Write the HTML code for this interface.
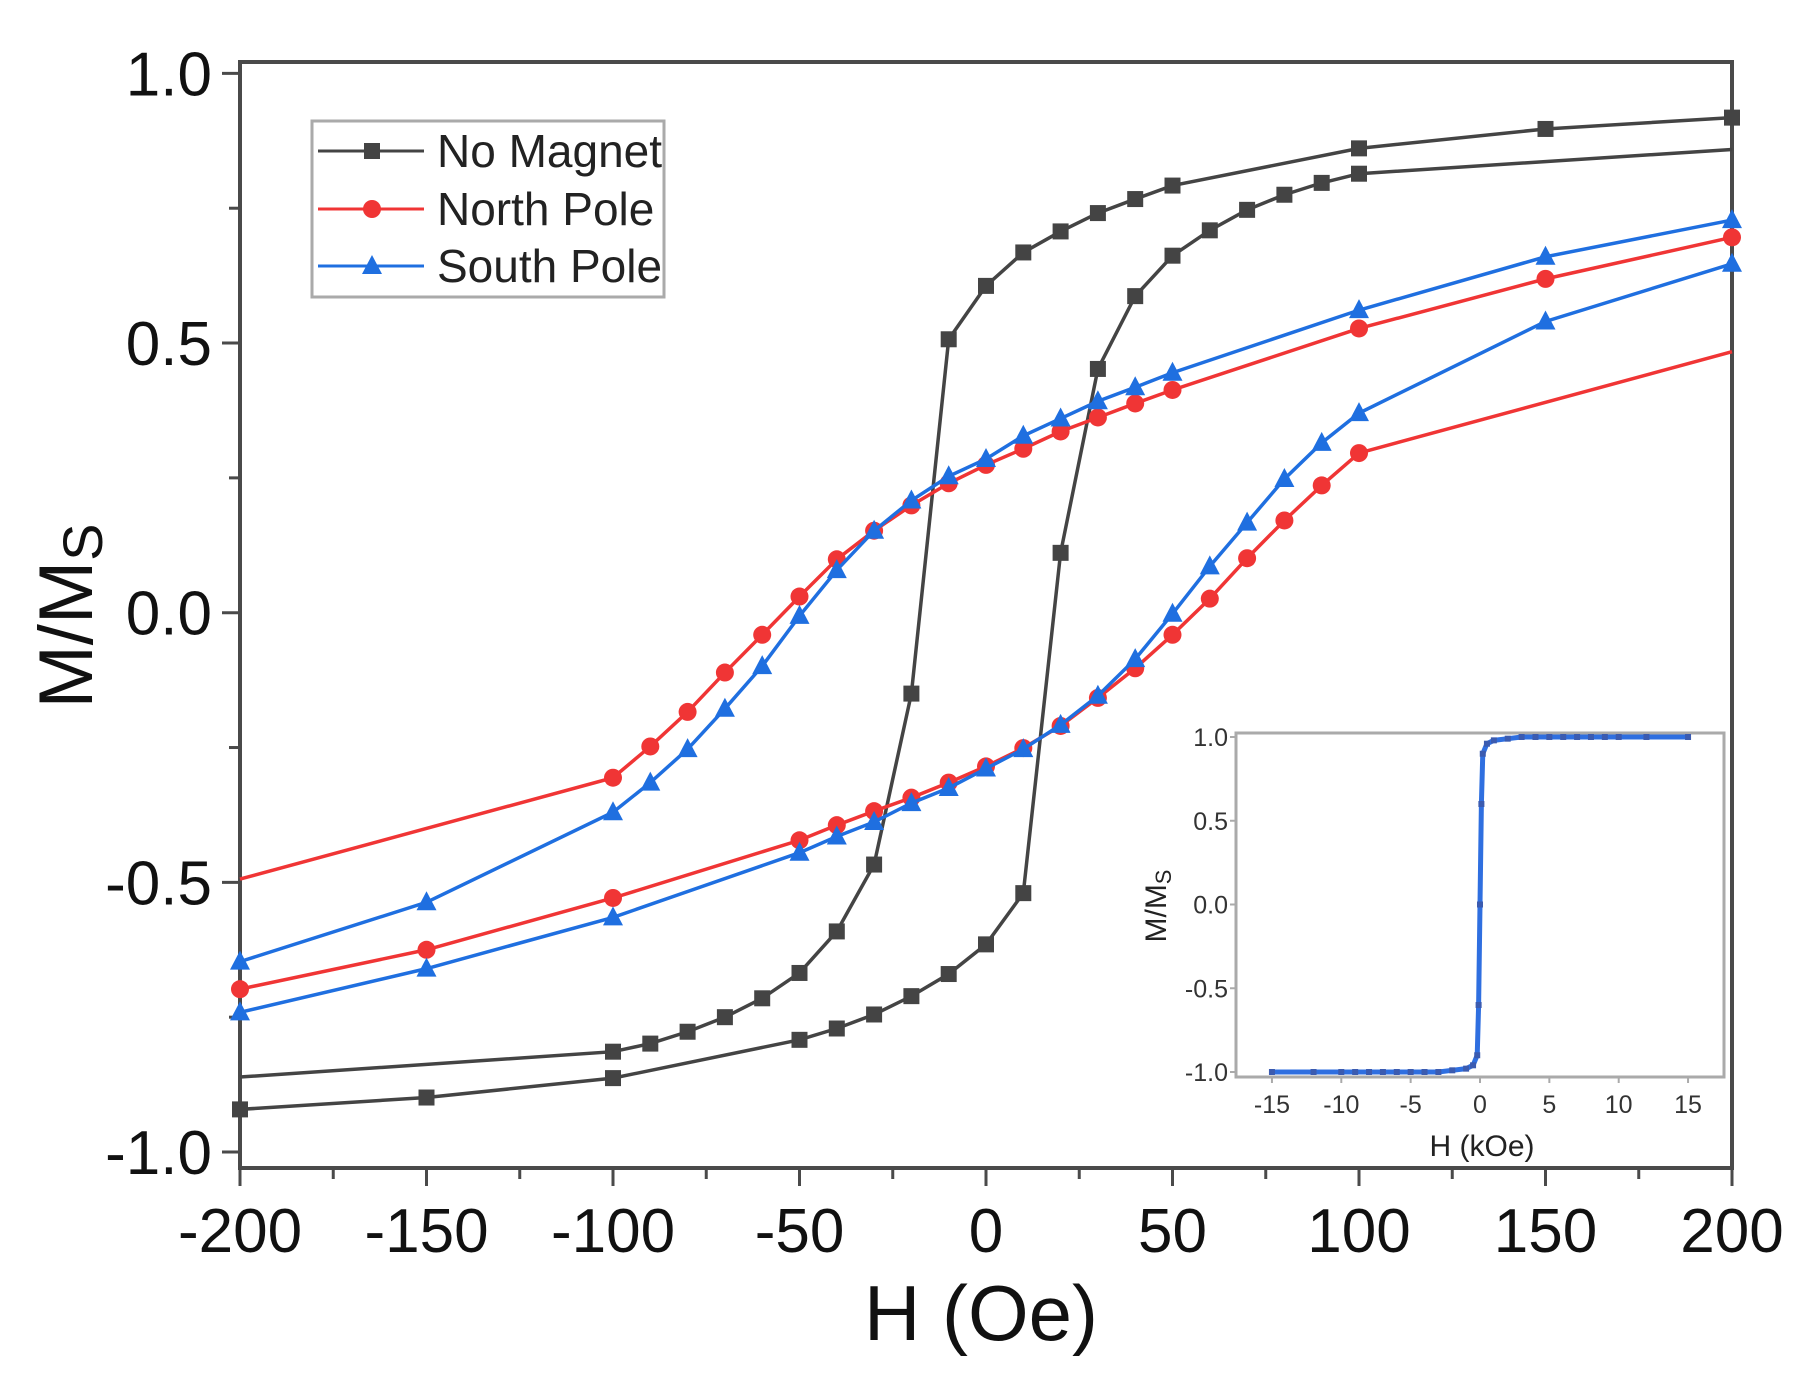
<!DOCTYPE html>
<html><head><meta charset="utf-8"><style>
html,body{margin:0;padding:0;background:#fff;}
svg{display:block;font-family:"Liberation Sans",Arial,sans-serif;}
</style></head><body>
<svg id="chart" width="1812" height="1380" viewBox="0 0 1812 1380" xmlns="http://www.w3.org/2000/svg">
<rect width="1812" height="1380" fill="#fff"/>
<g id="main"></g>
<g id="inset"></g>
</svg>
<script>
const xTicks = [-200,-150,-100,-50,0,50,100,150,200];
const yTicks = [-1.0,-0.5,0.0,0.5,1.0];
const yTickLabels = ["-1.0","-0.5","0.0","0.5","1.0"];
const hNoMagUp = [200,150,100,50,40,30,20,10,0,-10,-20,-30,-40,-50,-60,-70,-80,-90,-100,-200];
const mNoMagUp = [0.918,0.897,0.861,0.792,0.767,0.741,0.707,0.668,0.606,0.507,-0.15,-0.467,-0.591,-0.668,-0.715,-0.75,-0.777,-0.799,-0.814,-0.861];
const hNoMagDn = [-200,-150,-100,-50,-40,-30,-20,-10,0,10,20,30,40,50,60,70,80,90,100,200];
const mNoMagDn = [-0.921,-0.899,-0.863,-0.792,-0.771,-0.745,-0.711,-0.67,-0.615,-0.52,0.111,0.452,0.587,0.662,0.709,0.747,0.775,0.797,0.814,0.859];
const hNorthUp = [200,150,100,50,40,30,20,10,0,-10,-20,-30,-40,-50,-60,-70,-80,-90,-100,-200];
const mNorthUp = [0.696,0.619,0.527,0.413,0.388,0.362,0.336,0.304,0.274,0.24,0.199,0.152,0.099,0.03,-0.041,-0.111,-0.184,-0.248,-0.306,-0.494];
const hNorthDn = [-200,-150,-100,-50,-40,-30,-20,-10,0,10,20,30,40,50,60,70,80,90,100,200];
const mNorthDn = [-0.698,-0.625,-0.529,-0.422,-0.394,-0.368,-0.343,-0.315,-0.285,-0.251,-0.21,-0.158,-0.103,-0.041,0.026,0.101,0.171,0.236,0.296,0.484];
const hSouthUp = [200,150,100,50,40,30,20,10,0,-10,-20,-30,-40,-50,-60,-70,-80,-90,-100,-150,-200];
const mSouthUp = [0.728,0.66,0.561,0.445,0.418,0.392,0.36,0.328,0.285,0.253,0.208,0.152,0.079,-0.006,-0.099,-0.178,-0.253,-0.315,-0.37,-0.537,-0.647];
const hSouthDn = [-200,-150,-100,-50,-40,-30,-20,-10,0,10,20,30,40,50,60,70,80,90,100,150,200];
const mSouthDn = [-0.741,-0.66,-0.565,-0.445,-0.415,-0.388,-0.353,-0.325,-0.289,-0.253,-0.208,-0.154,-0.086,-0.002,0.086,0.167,0.248,0.315,0.37,0.54,0.647];
const insetXTicks = [-15,-10,-5,0,5,10,15];
const insetYTicks = [-1.0,-0.5,0.0,0.5,1.0];
const insetH = [-15,-12,-10,-9,-8,-7,-6,-5,-4,-3,-2,-1,-0.5,-0.2,-0.1,0,0.1,0.2,0.5,1,2,3,4,5,6,7,8,9,10,12,15];
const insetM = [-1,-1,-1,-1,-1,-1,-1,-1,-1,-1,-0.99,-0.98,-0.96,-0.9,-0.6,0,0.6,0.9,0.96,0.98,0.99,1,1,1,1,1,1,1,1,1,1];

const NS="http://www.w3.org/2000/svg";
function mk(parent,tag,attrs,text){const e=document.createElementNS(NS,tag);for(const k in attrs)e.setAttribute(k,attrs[k]);if(text!==undefined)e.textContent=text;parent.appendChild(e);return e;}
const X=h=>240+(h+200)/400*1492;
const Y=m=>612.7-m*539.3;
const main=document.getElementById('main');
const AX="#4a4a4a";
let f=mk(main,'rect',{x:240,y:62,width:1492,height:1106,fill:'none',stroke:AX,'stroke-width':4});


for(let v=-200;v<=200;v+=25){const major=v%50===0;const t=mk(main,'line',{x1:X(v),x2:X(v),y1:1168,y2:1168+(major?18:11),stroke:AX,'stroke-width':3});

}
xTicks.forEach(v=>{const t=mk(main,'text',{x:X(v),y:1252,'font-size':62,'text-anchor':'middle',fill:'#111'},String(v));

});
for(let i=-4;i<=4;i++){const v=i*0.25;const major=i%2===0;const t=mk(main,'line',{x1:240,x2:240-(major?18:11),y1:Y(v),y2:Y(v),stroke:AX,'stroke-width':3});

}
yTicks.forEach((v,i)=>{const t=mk(main,'text',{x:212,y:Y(v)+22,'font-size':62,'text-anchor':'end',fill:'#111'},yTickLabels[i]);

});
let xt=mk(main,'text',{x:981,y:1340,'font-size':78,'text-anchor':'middle',fill:'#111'},'H (Oe)');


let yt=mk(main,'text',{x:0,y:0,'font-size':76,'text-anchor':'middle',fill:'#111',transform:'translate(92,616) rotate(-90)'});


yt.appendChild(document.createTextNode('M/M'));
mk(yt,'tspan',{'font-size':56,dy:10},'S');

function marker(g,x,y,color,shape,nm){
  let m;
  if(shape==='sq') m=mk(g,'rect',{x:x-8,y:y-8,width:16,height:16,fill:color});
  else if(shape==='ci') m=mk(g,'circle',{cx:x,cy:y,r:9,fill:color});
  else m=mk(g,'polygon',{points:`${x},${y-11} ${x-10},${y+8} ${x+10},${y+8}`,fill:color});
  
  
}
function branch(name,hs,ms,color,shape,skipLast){
  const g=mk(main,'g',{});
  
  
  const pts=hs.map((h,i)=>X(h)+','+Y(ms[i])).join(' ');
  const l=mk(g,'polyline',{points:pts,fill:'none',stroke:color,'stroke-width':3.5});
  
  
  hs.forEach((h,i)=>{ if(skipLast && i===hs.length-1) return; marker(g,X(h),Y(ms[i]),color,shape,name+'-point');});
}
branch('no-magnet-upper',hNoMagUp,mNoMagUp,'#444','sq',true);
branch('no-magnet-lower',hNoMagDn,mNoMagDn,'#444','sq',true);
branch('north-pole-upper',hNorthUp,mNorthUp,'#f03535','ci',true);
branch('north-pole-lower',hNorthDn,mNorthDn,'#f03535','ci',true);
branch('south-pole-upper',hSouthUp,mSouthUp,'#1f6fe0','tr',false);
branch('south-pole-lower',hSouthDn,mSouthDn,'#1f6fe0','tr',false);

const lg=mk(main,'g',{});


mk(lg,'rect',{x:312,y:121,width:352,height:176,fill:'#fff',stroke:'#aaa','stroke-width':3});
[['No Magnet','#444','sq',151],['North Pole','#f03535','ci',209],['South Pole','#1f6fe0','tr',266]].forEach(r=>{
  const e=mk(lg,'g',{});
  
  
  mk(e,'line',{x1:318,x2:424,y1:r[3],y2:r[3],stroke:r[1],'stroke-width':3});
  marker(e,372,r[3],r[1],r[2],'legend-marker');
  mk(e,'text',{x:437,y:r[3]+16,'font-size':46,fill:'#222'},r[0]);
});

const ins=document.getElementById('inset');
const IX=h=>1480+h*13.87;
const IY=m=>904.5-m*167.5;
let ib=mk(ins,'rect',{x:1236,y:733,width:488,height:344,fill:'#fff',stroke:'#aaa','stroke-width':3});


insetXTicks.forEach(v=>{mk(ins,'line',{x1:IX(v),x2:IX(v),y1:1077,y2:1083,stroke:'#aaa','stroke-width':2});
const t=mk(ins,'text',{x:IX(v),y:1113,'font-size':25,'text-anchor':'middle',fill:'#333'},String(v));

});
insetYTicks.forEach(v=>{mk(ins,'line',{x1:1236,x2:1230,y1:IY(v),y2:IY(v),stroke:'#aaa','stroke-width':2});
const t=mk(ins,'text',{x:1228,y:IY(v)+9,'font-size':25,'text-anchor':'end',fill:'#333'},v.toFixed(1));

});
let ixt=mk(ins,'text',{x:1482,y:1156,'font-size':30,'text-anchor':'middle',fill:'#222'},'H (kOe)');


let iyt=mk(ins,'text',{x:0,y:0,'font-size':30,'text-anchor':'middle',fill:'#222',transform:'translate(1166,906) rotate(-90)'});


iyt.appendChild(document.createTextNode('M/M'));
mk(iyt,'tspan',{'font-size':22,dy:5},'S');
const ipts=insetH.map((h,i)=>IX(h)+','+IY(insetM[i])).join(' ');
let il=mk(ins,'polyline',{points:ipts,fill:'none',stroke:'#2f6fe0','stroke-width':5});


insetH.forEach((h,i)=>{const d=mk(ins,'rect',{x:IX(h)-3,y:IY(insetM[i])-3,width:6,height:6,fill:'#3b5bb0'});

});
</script>
</body></html>
